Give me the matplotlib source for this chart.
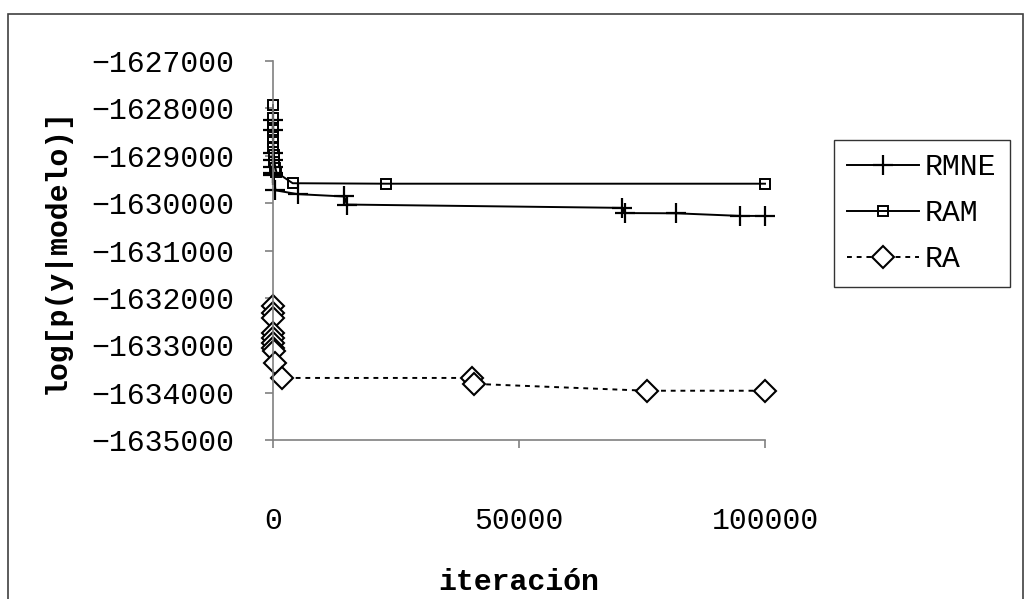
import numpy as np
import matplotlib
matplotlib.use('Agg')
import matplotlib.pyplot as plt
from matplotlib.patches import Rectangle

# data
rmne_iter = [1, 2, 5, 10, 20, 50, 100, 500, 5000, 14500, 15000, 71000, 71500, 82000, 95000, 100000]
rmne_val = [-1628250, -1628460, -1628950, -1629095, -1629245, -1629370, -1629400, -1629730,
            -1629810, -1629860, -1630030, -1630100, -1630210, -1630215, -1630270, -1630270]

ram_iter = [1, 2, 5, 10, 20, 50, 100, 200, 300, 500, 700, 4000, 23000, 100000]
ram_val = [-1627930, -1628210, -1628355, -1628460, -1628610, -1628715, -1628840,
           -1628990, -1629140, -1629265, -1629350, -1629580, -1629590, -1629590]

ra_iter = [1, 2, 5, 10, 20, 50, 100, 200, 500, 1800, 40400, 40900, 76000, 100000]
ra_val = [-1632165, -1632310, -1632420, -1632735, -1632840, -1632950, -1633050,
          -1633115, -1633370, -1633690, -1633690, -1633815, -1633960, -1633960]

x_ticks = [0, 50000, 100000]
y_ticks = [-1627000, -1628000, -1629000, -1630000, -1631000, -1632000, -1633000, -1634000, -1635000]

font = 'Liberation Mono'
fs = 21.5
plt.rcParams['font.family'] = font

fig = plt.figure(figsize=(10.31, 5.99), dpi=100)
ax = fig.add_axes([273/1031, 1 - 440/599, (765-273)/1031, (440-61)/599])

ax.plot(rmne_iter, rmne_val, color='black', lw=1.4, marker='+', ms=14, mew=1.6,
        clip_on=False, label='RMNE')
ax.plot(ram_iter, ram_val, color='black', lw=1.4, marker='s', ms=7, mew=1.4,
        mfc='none', clip_on=False, label='RAM')
ax.plot(ra_iter, ra_val, color='black', lw=1.4, ls=(0, (2.5, 2.5)), marker='D', ms=11, mew=1.5,
        mfc='white', clip_on=False, label='RA')

ax.set_xlim(0, 100000)
ax.set_ylim(-1635000, -1627000)
ax.set_xticks(x_ticks)
ax.set_xticklabels([str(t) for t in x_ticks], fontsize=fs)
ax.set_yticks(y_ticks)
ax.set_yticklabels([str(t).replace('-', '\u2212') for t in y_ticks], fontsize=fs)

for s in ['top', 'right']:
    ax.spines[s].set_visible(False)
for s in ['left', 'bottom']:
    ax.spines[s].set_color('#808080')
    ax.spines[s].set_linewidth(1.2)
ax.tick_params(axis='both', direction='out', length=6, width=1.2, color='#808080')
ax.tick_params(axis='y', pad=22)
ax.tick_params(axis='x', pad=42)

ax.set_xlabel('iteración', fontsize=fs, fontweight='bold', labelpad=24)
ax.set_ylabel('log[p(y|modelo)]', fontsize=fs, fontweight='bold', labelpad=15)

leg = fig.legend(loc='upper left', bbox_to_anchor=(834/1031, 1 - 140/599), fontsize=fs,
                 frameon=True, fancybox=False, edgecolor='black', handlelength=2.4,
                 labelspacing=0.6, borderpad=0.45, handletextpad=0.2, borderaxespad=0)
leg.get_frame().set_linewidth(1.0)

fig.patches.append(Rectangle((8/1031, -0.05), (1023-8)/1031, 1 - 14/599 + 0.05,
                             transform=fig.transFigure, fill=False, edgecolor='#404040', lw=1.2))

fig.savefig('out.png', dpi=100)
